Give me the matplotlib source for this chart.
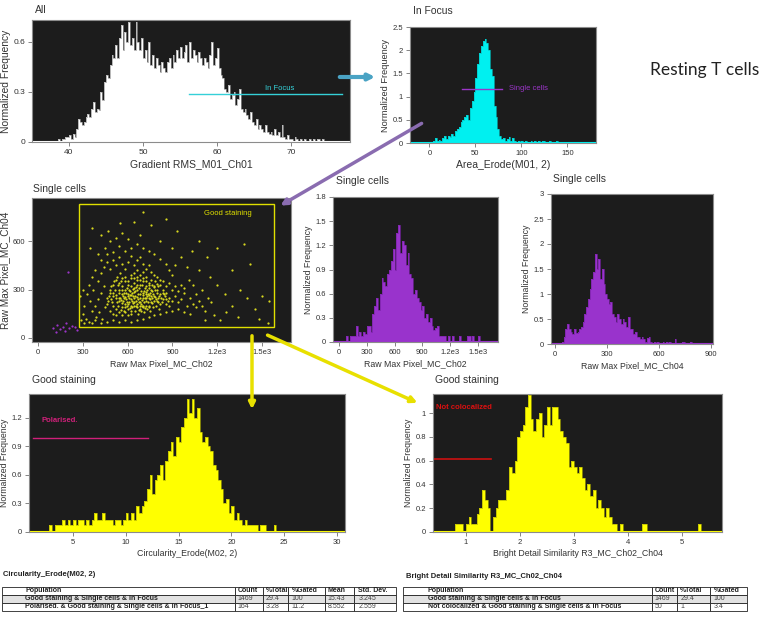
import numpy as np
import matplotlib
matplotlib.use("Agg")
import matplotlib.pyplot as plt
from matplotlib.patches import Rectangle, FancyArrowPatch
from matplotlib.ticker import FuncFormatter

plt.rcParams['font.family'] = ['Liberation Sans', 'DejaVu Sans']

W, H = 780, 618

# ---------------- data ----------------
# "All": Gradient RMS_M01_Ch01, bins of 0.25 from 38.5
all_start, all_width = 38.5, 0.25
all_heights = [
    0.02, 0.0, 0.02, 0.02, 0.03, 0.03, 0.04, 0.02, 0.05, 0.03,
    0.08, 0.14, 0.12, 0.10,  0.12, 0.15, 0.17, 0.15,  0.20, 0.24, 0.18, 0.20,
    0.19, 0.30, 0.25, 0.36,  0.40, 0.38, 0.46, 0.52,  0.50, 0.58, 0.50, 0.62,
    0.70, 0.55, 0.66, 0.60,  0.72, 0.58, 0.62, 0.55,  0.72, 0.60, 0.55, 0.62,
    0.50, 0.55, 0.48, 0.60,  0.46, 0.52, 0.44, 0.50,  0.46, 0.42, 0.48, 0.44,
    0.42, 0.48, 0.50, 0.44,  0.52, 0.48, 0.55, 0.50,  0.57, 0.50, 0.54, 0.58,
    0.48, 0.60, 0.50, 0.55,  0.52, 0.48, 0.54, 0.50,  0.46, 0.50, 0.48, 0.44,
    0.52, 0.60, 0.46, 0.50,  0.56, 0.44, 0.40, 0.38,  0.32, 0.30, 0.34, 0.26,
    0.28, 0.30, 0.22, 0.26,  0.32, 0.20, 0.18, 0.20,  0.16, 0.14, 0.18, 0.12,
    0.10, 0.14, 0.08, 0.10,  0.08, 0.06, 0.10, 0.06,  0.05, 0.06, 0.04, 0.08,
    0.04, 0.06, 0.03, 0.10,  0.03, 0.02, 0.04, 0.02,  0.02, 0.0, 0.03, 0.02,
    0.0, 0.02, 0.0, 0.02,  0.0, 0.0, 0.02, 0.0,  0.02, 0.0, 0.02, 0.02,
    0.0, 0.02, 0.0, 0.0,
]
all_gate = (56.2, 76.9, 0.288)

# "In Focus": Area_Erode(M01, 2), bins of 2 from 0
focus_start, focus_width = 0, 2
focus_heights = [
    0.0, 0.0, 0.05, 0.10, 0.05,  0.07, 0.05, 0.10, 0.15, 0.08,
    0.15, 0.12, 0.20, 0.15, 0.25,  0.30, 0.35, 0.45, 0.50, 0.55,
    0.60, 0.50, 0.75, 0.90, 1.10,  1.40, 1.70, 1.95, 2.10, 2.20,
    2.25, 2.15, 2.00, 1.60, 1.45,  0.80, 0.55, 0.30, 0.15, 0.08,
    0.10, 0.05, 0.08, 0.12, 0.05,  0.10, 0.05, 0.03, 0.05, 0.02,
    0.05, 0.03, 0.05, 0.0, 0.03,  0.05, 0.03, 0.05, 0.0, 0.05,
    0.03, 0.05, 0.05, 0.0, 0.03,  0.05, 0.0, 0.03, 0.0, 0.05,
]
focus_gate = (36, 79, 1.17)

# "Single cells": Raw Max Pixel Ch02 vs Ch04 scatter
good_points = [
    (520, 250), (540, 230), (560, 270), (580, 210), (600, 260), (610, 300), (620, 240), (630, 280), (640, 220), (650, 260),
    (660, 300), (670, 240), (680, 270), (690, 210), (700, 250), (710, 290), (720, 230), (730, 260), (740, 200), (750, 280),
    (560, 320), (580, 350), (600, 330), (620, 370), (640, 340), (660, 360), (680, 330), (700, 350), (720, 320), (740, 340),
    (500, 200), (520, 180), (540, 300), (560, 190), (580, 300), (600, 180), (620, 200), (640, 310), (660, 190), (680, 200),
    (700, 190), (720, 270), (740, 250), (760, 220), (780, 260), (800, 230), (820, 270), (840, 240), (860, 210), (880, 250),
    (470, 230), (480, 280), (490, 320), (500, 260), (510, 350), (530, 380), (550, 400), (570, 260), (590, 240), (610, 220),
    (630, 190), (650, 170), (670, 150), (690, 170), (710, 160), (730, 180), (750, 170), (770, 190), (790, 200), (810, 180),
    (450, 190), (460, 250), (480, 170), (500, 150), (520, 140), (540, 160), (560, 140), (580, 160), (600, 140), (620, 150),
    (640, 400), (660, 420), (680, 390), (700, 410), (720, 380), (760, 360), (780, 320), (800, 300), (820, 330), (840, 300),
    (860, 280), (880, 200), (900, 230), (920, 260), (940, 220), (960, 240), (980, 280), (1000, 200), (1020, 250), (1040, 210),
    (530, 220), (550, 250), (570, 230), (590, 280), (610, 250), (630, 230), (650, 290), (670, 270), (690, 290), (710, 220),
    (730, 300), (750, 240), (770, 270), (790, 240), (810, 260), (830, 220), (850, 260), (870, 230), (545, 280), (565, 300),
    (585, 190), (605, 210), (625, 320), (645, 250), (665, 210), (685, 250), (705, 280), (725, 250), (745, 310), (765, 290),
    (515, 300), (535, 330), (555, 350), (575, 280), (595, 310), (615, 290), (635, 260), (655, 230), (675, 310), (695, 330),
    (715, 310), (735, 220), (755, 260), (775, 230), (795, 280), (815, 210), (835, 280), (855, 240), (490, 240), (505, 280),
    (625, 170), (645, 200), (665, 330), (685, 180), (705, 200), (725, 200), (745, 190), (765, 250), (785, 300), (805, 250),
    (525, 265), (545, 245), (565, 215), (585, 255), (605, 275), (625, 265), (645, 285), (665, 255), (685, 225), (705, 265),
    (725, 285), (745, 265), (765, 215), (785, 255), (805, 225), (825, 245), (845, 275), (555, 235), (575, 245), (595, 225),
    (615, 265), (635, 305), (655, 315), (675, 225), (695, 235), (715, 245), (735, 275), (755, 295), (775, 315), (795, 335),
    (535, 195), (555, 175), (575, 165), (595, 200), (615, 185), (635, 215), (655, 195), (675, 175), (695, 195), (715, 185),
    (465, 210), (475, 260), (485, 300), (495, 220), (505, 330), (525, 360), (545, 340), (565, 370), (585, 380), (605, 350),
    (625, 390), (645, 370), (665, 380), (685, 360), (705, 370), (725, 350), (745, 330), (765, 330), (785, 350), (805, 320),
    (380, 200), (400, 240), (420, 280), (440, 320), (360, 170), (390, 130), (410, 160), (430, 120), (350, 230), (370, 300),
    (400, 350), (420, 400), (440, 440), (460, 470), (480, 430), (500, 480), (520, 450), (540, 500), (560, 460), (580, 430),
    (600, 470), (620, 510), (640, 450), (660, 480), (680, 500), (700, 460), (720, 430), (740, 450), (760, 410), (780, 390),
    (800, 380), (820, 360), (840, 350), (860, 320), (880, 340), (900, 300), (920, 320), (940, 290), (960, 330), (980, 310),
    (320, 120), (340, 100), (360, 90), (380, 110), (420, 90), (460, 100), (500, 110), (540, 100), (580, 110), (620, 100),
    (660, 110), (700, 120), (740, 130), (780, 140), (820, 150), (860, 160), (900, 170), (940, 180), (980, 160), (1020, 150),
    (1060, 190), (1080, 230), (1100, 200), (1120, 170), (1060, 270), (1100, 300), (1140, 250), (1160, 220), (1040, 330), (1010, 360),
    (880, 420), (900, 390), (920, 450), (860, 460), (820, 490), (780, 520), (740, 540), (700, 560), (660, 580), (620, 560),
    (580, 540), (540, 570), (500, 530), (460, 520), (420, 480), (380, 420), (360, 380), (340, 330), (330, 270), (310, 200),
    (300, 150), (310, 90), (290, 110), (450, 560), (480, 600), (520, 620), (600, 610), (680, 640), (560, 650), (470, 660),
    (700, 780), (640, 720), (420, 640), (360, 680), (550, 710), (820, 600), (900, 560), (960, 500), (1000, 440), (1080, 420),
    (1150, 380), (1200, 330), (1250, 270), (1300, 200), (1350, 300), (1400, 250), (1450, 180), (1500, 260), (1550, 230), (1420, 460),
    (1300, 420), (1180, 140), (1220, 110), (1260, 160), (1120, 110), (1340, 130), (1480, 120), (1540, 90), (1030, 540), (1130, 500),
    (300, 300), (280, 260), (350, 560), (400, 520), (930, 660), (1080, 600), (760, 700), (860, 740), (1200, 560), (1380, 580),
]
other_points = [
    (100, 60), (130, 80), (150, 55), (170, 70), (190, 90), (210, 60),
    (230, 75), (250, 65), (200, 410), (120, 40), (180, 45), (260, 50),
]
stain_gate = (274, 68, 1583, 832)   # x0, y0, x1, y1

# "Single cells": Raw Max Pixel_MC_Ch02, bins of 20 from 80
ch02_start, ch02_width = 80, 20
ch02_heights = [
    0.07, 0.0, 0.07, 0.07, 0.07,  0.20, 0.07, 0.13, 0.07, 0.13,
    0.10, 0.20, 0.20, 0.13, 0.35,  0.45, 0.55, 0.40, 0.60, 0.80,
    0.75, 0.70, 0.85, 0.90, 1.00,  1.15, 0.90, 1.35, 1.45, 1.10,
    1.25, 1.20, 0.95, 1.10, 0.85,  0.80, 0.60, 0.65, 0.55, 0.50,
    0.40, 0.45, 0.30, 0.35, 0.25,  0.30, 0.20, 0.15, 0.18, 0.20,
    0.07, 0.07, 0.07, 0.07, 0.0,  0.07, 0.0, 0.07, 0.0, 0.0,
    0.0, 0.07, 0.0, 0.0, 0.0,  0.07, 0.07, 0.0, 0.07, 0.0,
    0.0, 0.07, 0.0, 0.0, 0.0,
]

# "Single cells": Raw Max Pixel_MC_Ch04, bins of 10 from 40
ch04_start, ch04_width = 40, 10
ch04_heights = [
    0.05, 0.15, 0.30, 0.40, 0.30,  0.25, 0.20, 0.30, 0.22, 0.25,
    0.30, 0.35, 0.45, 0.60, 0.75,  0.90, 1.10, 1.30, 1.45, 1.80,
    1.50, 1.70, 1.30, 1.50, 1.20,  1.00, 0.90, 0.80, 0.85, 0.60,
    0.55, 0.45, 0.60, 0.50, 0.40,  0.50, 0.45, 0.35, 0.55, 0.30,
    0.30, 0.20, 0.25, 0.15, 0.15,  0.10, 0.15, 0.10, 0.05, 0.12,
    0.15, 0.05, 0.03, 0.05, 0.03,  0.05, 0.03, 0.0, 0.05, 0.0,
    0.05, 0.0, 0.05, 0.0, 0.03,  0.10, 0.0, 0.0, 0.0, 0.05,
    0.05, 0.0, 0.03, 0.0, 0.05,
]

# "Good staining": Circularity_Erode(M02, 2), bins of 0.25 from 2.75
circ_start, circ_width = 2.75, 0.25
circ_heights = [
    0.07, 0.0, 0.07, 0.07, 0.07,
    0.13, 0.07, 0.13, 0.07,  0.13, 0.07, 0.13, 0.13,  0.07, 0.13, 0.07, 0.13,
    0.20, 0.13, 0.13, 0.20,  0.13, 0.13, 0.13, 0.07,  0.13, 0.13, 0.07, 0.13,
    0.20, 0.13, 0.20, 0.13,  0.27, 0.20, 0.27, 0.33,  0.45, 0.60, 0.40, 0.55,
    0.60, 0.70, 0.55, 0.75,  0.85, 0.95, 0.80, 1.00,  0.95, 1.10, 1.20, 1.40,
    1.25, 1.40, 1.20, 1.30,  1.05, 0.95, 1.00, 0.90,  0.85, 0.70, 0.65, 0.55,
    0.45, 0.30, 0.35, 0.20,  0.27, 0.13, 0.20, 0.13,  0.07, 0.13, 0.07, 0.07,
    0.07, 0.07, 0.0, 0.07,  0.07, 0.0, 0.0, 0.0,  0.07, 0.0,
]
circ_gate = (1.2, 12.1, 0.99)

# "Good staining": Bright Detail Similarity R3_MC_Ch02_Ch04, bins of 0.05 from 0.8
bds_start, bds_width = 0.8, 0.05
bds_heights = [
    0.07, 0.07, 0.07, 0.0, 0.07,  0.13, 0.07, 0.07, 0.15, 0.20,
    0.35, 0.27, 0.20, 0.0, 0.13,  0.20, 0.27, 0.27, 0.27, 0.35,
    0.55, 0.50, 0.60, 0.80, 0.85,  0.90, 1.05, 1.15, 0.95, 0.85,
    0.95, 1.00, 0.80, 0.90, 1.05,  0.90, 1.05, 1.05, 0.95, 0.85,
    0.80, 0.75, 0.55, 0.60, 0.55,  0.50, 0.55, 0.45, 0.35, 0.40,
    0.30, 0.35, 0.20, 0.27, 0.20,  0.13, 0.20, 0.13, 0.07, 0.07,
    0.0, 0.07, 0.0, 0.0, 0.0,  0.0, 0.0, 0.0, 0.0, 0.07,
    0.07, 0.0, 0.0, 0.0, 0.0,
    0.0, 0.0, 0.0, 0.0, 0.0, 0.0, 0.0, 0.0, 0.0, 0.0, 0.0, 0.0, 0.0, 0.0, 0.0,
    0.07, 0.0,
]
bds_gate = (0.39, 1.46, 0.61)

# statistics tables
circ_table_cols = ['Population', 'Count', '%Total', '%Gated', 'Mean', 'Std. Dev.']
circ_table_rows = [
    ['Good staining & Single cells & In Focus', '1469', '29.4', '100', '15.43', '3.245'],
    ['Polarised. & Good staining & Single cells & In Focus_1', '164', '3.28', '11.2', '8.552', '2.559'],
]
bds_table_cols = ['Population', 'Count', '%Total', '%Gated']
bds_table_rows = [
    ['Good staining & Single cells & In Focus', '1469', '29.4', '100'],
    ['Not colocalized & Good staining & Single cells & In Focus', '50', '1', '3.4'],
]

# ---------------- drawing ----------------
fig = plt.figure(figsize=(W / 100, H / 100), dpi=100)
fig.patch.set_facecolor('white')


def px_axes(l, t, r, b):
    return fig.add_axes([l / W, 1 - b / H, (r - l) / W, (b - t) / H])


def px(x, y):
    return (x / W, 1 - y / H)


def style_axes(ax, xlabel, ylabel, xticks, yticks, xticklabels=None,
               xsize=6.3, ysize=6.3, ticksize=5.5):
    ax.set_facecolor('#1c1c1c')
    for s in ax.spines.values():
        s.set_color('#8c8c8c')
        s.set_linewidth(0.8)
    ax.tick_params(labelsize=ticksize, length=3, width=0.6, color='#707070',
                   labelcolor='#333333', pad=2)
    ax.set_xticks(xticks)
    if xticklabels is not None:
        ax.set_xticklabels(xticklabels)
    ax.set_yticks(yticks)
    ax.yaxis.set_major_formatter(FuncFormatter(lambda v, p: f'{v:g}'))
    ax.set_xlabel(xlabel, fontsize=xsize, labelpad=2, color='#333333')
    ax.set_ylabel(ylabel, fontsize=ysize, labelpad=1.5, color='#333333')


def histogram(ax, start, width, heights, color, edge):
    edges = start + width * np.arange(len(heights) + 1)
    ax.stairs(heights, edges, fill=True, color=color, lw=0)
    ax.stairs(heights, edges, color=edge, lw=0.5)
    ax.axhline(0, color=color, lw=1.5, zorder=1)


def title(x, y, text):
    fig.text(*px(x, y), text, fontsize=7.5, color='#333333', va='center', ha='left')


nf = 'Normalized Frequency'

# All
ax = px_axes(32, 20, 350, 142)
histogram(ax, all_start, all_width, all_heights, 'white', '#9a9a9a')
ax.plot(all_gate[:2], [all_gate[2]] * 2, color='#35d0d8', lw=1)
ax.text(66.5, all_gate[2] + 0.01, 'In Focus', color='#35d0d8', fontsize=5.5, va='bottom')
ax.set_xlim(35, 78)
ax.set_ylim(0, 0.73)
style_axes(ax, 'Gradient RMS_M01_Ch01', nf, [40, 50, 60, 70], [0, 0.3, 0.6],
           xsize=7.5, ysize=7.4, ticksize=6)
title(35, 10, 'All')

# In Focus
ax = px_axes(410, 27, 596, 143)
histogram(ax, focus_start, focus_width, focus_heights, '#00f0f0', '#00c4c4')
ax.plot(focus_gate[:2], [focus_gate[2]] * 2, color='#9b35c8', lw=1)
ax.text(87, focus_gate[2], 'Single cells', color='#9b35c8', fontsize=5.5, va='center')
ax.set_xlim(-21, 181)
ax.set_ylim(0, 2.5)
style_axes(ax, 'Area_Erode(M01, 2)', nf, [0, 50, 100, 150], [0, 0.5, 1, 1.5, 2, 2.5],
           xsize=7.5, ysize=6.7)
title(413, 11, 'In Focus')

fig.text(*px(650, 70), 'Resting T cells', fontsize=12.5, family=['Lato', 'DejaVu Sans'],
         color='#222222', va='center', ha='left')

# scatter
ax = px_axes(32, 198, 291, 342)
gx, gy = np.array(good_points).T
ox, oy = np.array(other_points).T
ax.scatter(gx, gy, s=2.6, color='#d8d820', linewidths=0)
ax.scatter(ox, oy, s=2.6, color='#9b35c8', linewidths=0)
x0, y0, x1, y1 = stain_gate
ax.add_patch(Rectangle((x0, y0), x1 - x0, y1 - y0, fill=False, edgecolor='#e0e000', lw=1))
ax.text(1110, 770, 'Good staining', color='#e0e000', fontsize=5.5, va='center')
ax.set_xlim(-40, 1694)
ax.set_ylim(-25, 867)
style_axes(ax, 'Raw Max Pixel_MC_Ch02', 'Raw Max Pixel_MC_Ch04',
           [0, 300, 600, 900, 1200, 1500], [0, 300, 600],
           ['0', '300', '600', '900', '1.2e3', '1.5e3'], ysize=7.2)
title(33, 189, 'Single cells')

# Ch02
ax = px_axes(333, 197, 498, 342)
histogram(ax, ch02_start, ch02_width, ch02_heights, '#9933cc', '#7a22a8')
ax.set_xlim(-65, 1717)
ax.set_ylim(0, 1.8)
style_axes(ax, 'Raw Max Pixel_MC_Ch02', nf, [0, 300, 600, 900, 1200, 1500],
           [0, 0.3, 0.6, 0.9, 1.2, 1.5, 1.8], ['0', '300', '600', '900', '1.2e3', '1.5e3'])
title(336, 181, 'Single cells')

# Ch04
ax = px_axes(551, 194, 713, 344)
histogram(ax, ch04_start, ch04_width, ch04_heights, '#9933cc', '#7a22a8')
ax.set_xlim(-23, 911)
ax.set_ylim(0, 3)
style_axes(ax, 'Raw Max Pixel_MC_Ch04', nf, [0, 300, 600, 900], [0, 0.5, 1, 1.5, 2, 2.5, 3])
title(553, 179, 'Single cells')

# Circularity
ax = px_axes(29, 394, 345, 532)
histogram(ax, circ_start, circ_width, circ_heights, '#ffff00', '#b0b000')
ax.plot(circ_gate[:2], [circ_gate[2]] * 2, color='#d0207a', lw=1)
ax.text(2.0, 1.17, 'Polarised.', color='#d0207a', fontsize=5.5, fontweight='bold', va='center')
ax.set_xlim(0.83, 30.76)
ax.set_ylim(0, 1.45)
style_axes(ax, 'Circularity_Erode(M02, 2)', nf, [5, 10, 15, 20, 25, 30], [0, 0.3, 0.6, 0.9, 1.2])
title(32, 380, 'Good staining')

# Bright detail similarity
ax = px_axes(433, 394, 722, 532)
histogram(ax, bds_start, bds_width, bds_heights, '#ffff00', '#b0b000')
ax.plot(bds_gate[:2], [bds_gate[2]] * 2, color='#cc1010', lw=1.2)
ax.text(0.45, 1.05, 'Not colocalized', color='#dd1010', fontsize=5.5, fontweight='bold', va='center')
ax.set_xlim(0.39, 5.74)
ax.set_ylim(0, 1.16)
style_axes(ax, 'Bright Detail Similarity R3_MC_Ch02_Ch04', nf, [1, 2, 3, 4, 5],
           [0, 0.2, 0.4, 0.6, 0.8, 1])
title(435, 380, 'Good staining')


# connecting arrows
def arrow(a, b, color, lw):
    fig.add_artist(FancyArrowPatch(px(*a), px(*b), transform=fig.transFigure,
                                   arrowstyle='-|>', mutation_scale=9, color=color, lw=lw))


arrow((337, 77), (378, 77), '#4aa3c4', 3)
arrow((424, 122), (278, 207), '#8a6cb0', 2.5)
arrow((252, 333), (252, 412), '#e8e000', 2.5)
arrow((265, 334), (420, 404), '#e8e000', 2.5)


# statistics tables
def stats_table(l, t, r, b, widths, cols, rows, heading, hx, hy):
    fig.text(*px(hx, hy), heading, fontsize=5.5, fontweight='bold', color='#222222', va='center')
    tax = px_axes(l, t, r, b)
    tax.axis('off')
    tbl = tax.table(cellText=[cols] + rows, colWidths=[w / sum(widths) for w in widths],
                    bbox=[0, 0, 1, 1], cellLoc='left')
    tbl.auto_set_font_size(False)
    tbl.set_fontsize(5)
    for (ri, ci), cell in tbl.get_celld().items():
        cell.set_edgecolor('#222222')
        cell.set_linewidth(0.6)
        txt = cell.get_text()
        txt.set_color('#222222')
        if ri == 1:
            cell.set_facecolor('#e2e2e2')
        if ri == 0 or ci == 0:
            txt.set_fontweight('bold')
        else:
            txt.set_color('#444444')


stats_table(2, 587, 396, 611, [233, 28, 25, 37, 29, 42], circ_table_cols, circ_table_rows,
            'Circularity_Erode(M02, 2)', 3, 574)
stats_table(403, 587, 747, 611, [249, 25, 33, 37], bds_table_cols, bds_table_rows,
            'Bright Detail Similarity R3_MC_Ch02_Ch04', 406, 576)

fig.savefig('out.png', dpi=100)
